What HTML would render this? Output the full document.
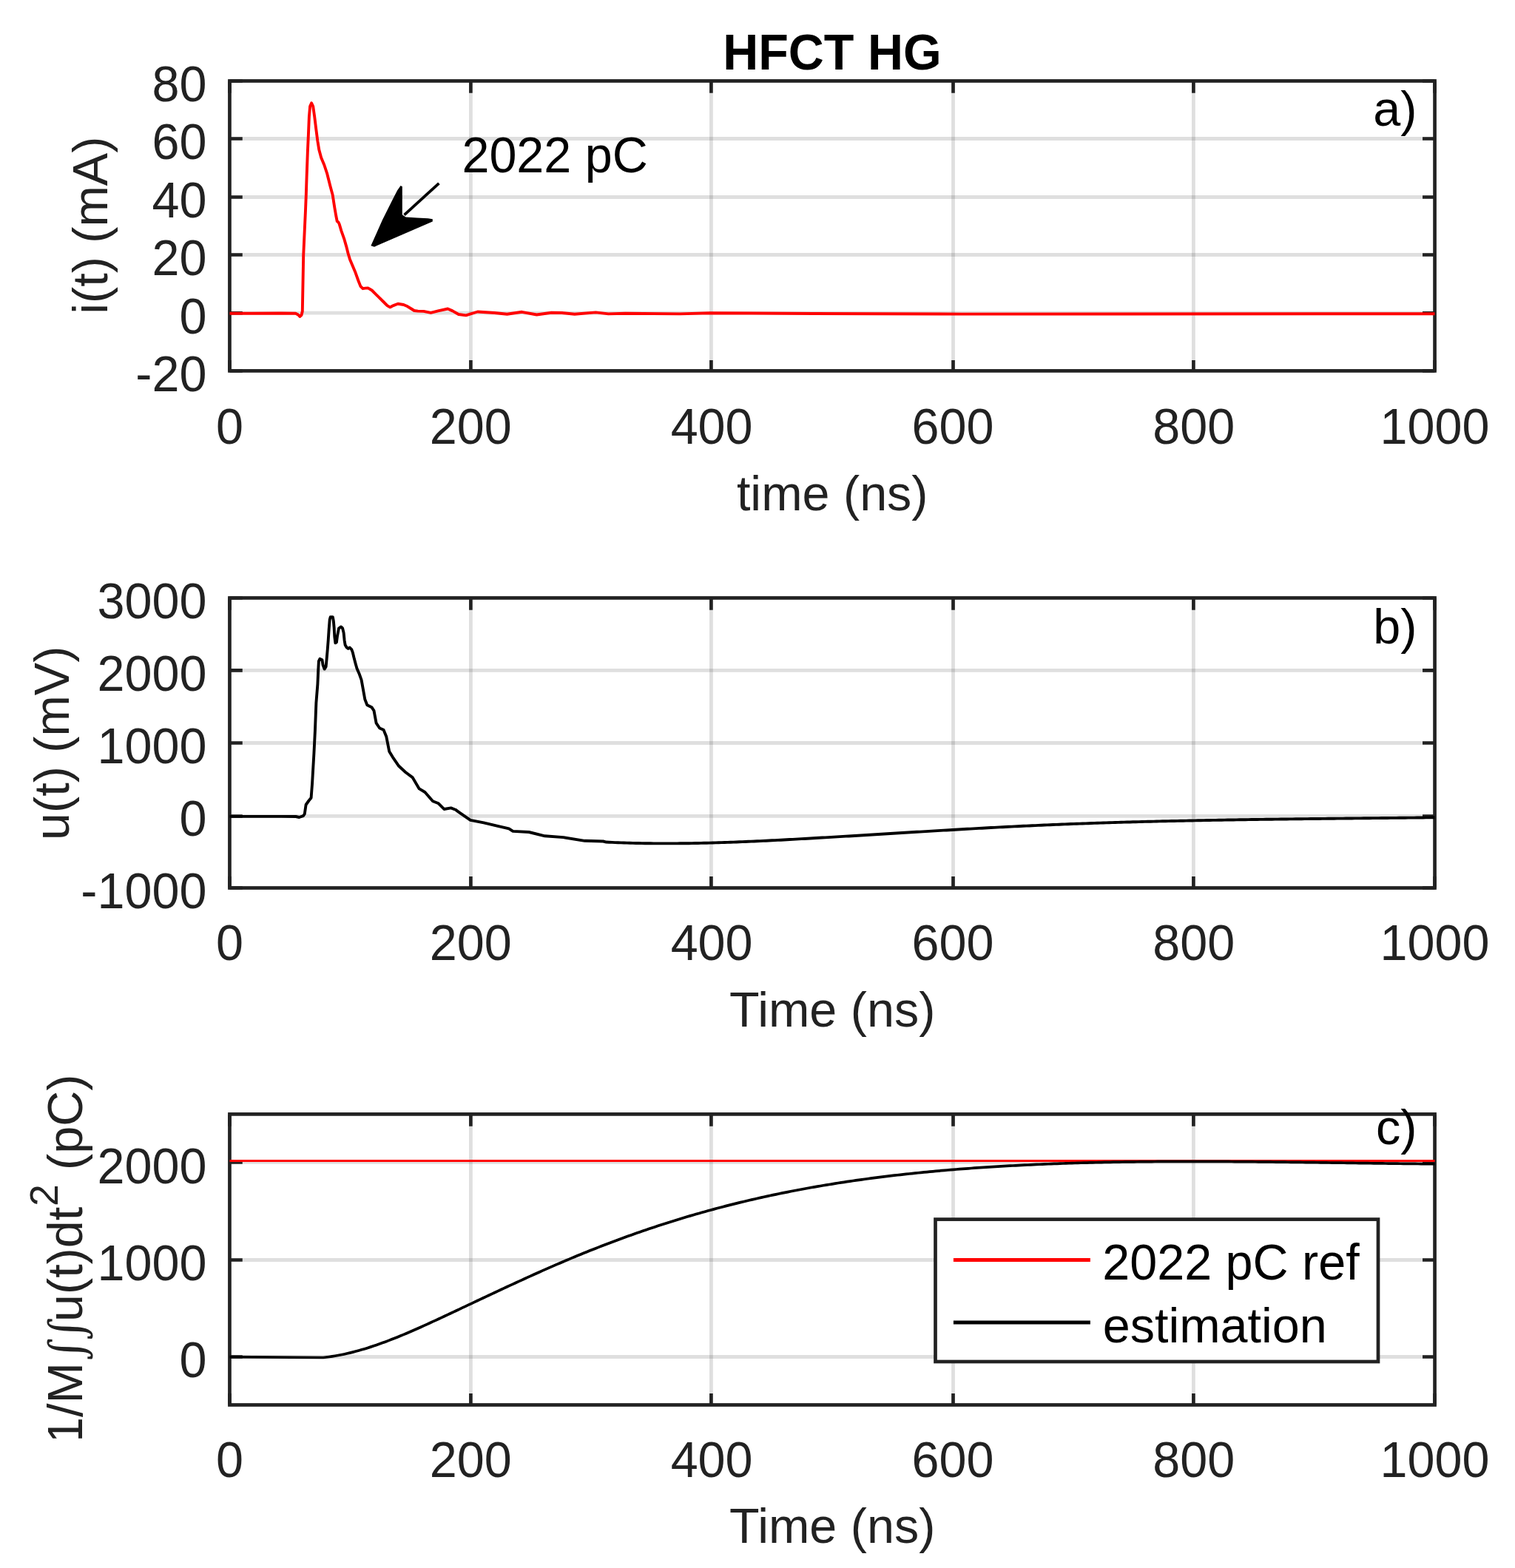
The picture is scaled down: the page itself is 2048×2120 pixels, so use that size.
<!DOCTYPE html>
<html><head><meta charset="utf-8"><title>HFCT HG</title>
<style>html,body{margin:0;padding:0;background:#fff;}svg{display:block;}</style>
</head><body>
<svg width="2048" height="2120" viewBox="0 0 2048 2120">
<rect width="2048" height="2120" fill="#fff"/>
<text transform="translate(1124.90 94.00) scale(1 1.043)" font-family="'Liberation Sans', sans-serif" font-size="66.5" fill="#000" text-anchor="middle" font-weight="bold">HFCT HG</text>
<path d="M636.40 109.45V501.40M961.40 109.45V501.40M1288.50 109.45V501.40M1613.40 109.45V501.40" stroke="#262626" stroke-opacity="0.15" stroke-width="4.8" fill="none"/>
<path d="M310.45 423.20H1939.55M310.45 344.50H1939.55M310.45 266.50H1939.55M310.45 187.50H1939.55" stroke="#262626" stroke-opacity="0.15" stroke-width="4.8" fill="none"/>
<path d="M310.45 501.40v-14.3M310.45 109.45v16.3M636.40 501.40v-14.3M636.40 109.45v16.3M961.40 501.40v-14.3M961.40 109.45v16.3M1288.50 501.40v-14.3M1288.50 109.45v16.3M1613.40 501.40v-14.3M1613.40 109.45v16.3M1939.55 501.40v-14.3M1939.55 109.45v16.3M310.45 501.40h17.3M1939.55 501.40h-16.5M310.45 423.20h17.3M1939.55 423.20h-16.5M310.45 344.50h17.3M1939.55 344.50h-16.5M310.45 266.50h17.3M1939.55 266.50h-16.5M310.45 187.50h17.3M1939.55 187.50h-16.5M310.45 109.45h17.3M1939.55 109.45h-16.5" stroke="#222222" stroke-width="4.65" fill="none"/>
<rect x="310.45" y="109.45" width="1629.10" height="391.95" fill="none" stroke="#222222" stroke-width="4.7"/>
<path d="M310.50 423.70 L340.00 423.80 L380.00 423.50 L399.60 423.80 L403.00 425.50 L405.30 428.00 L407.50 426.00 L408.80 421.00 L410.20 345.30 L412.96 285.00 L413.80 263.80 L414.60 239.30 L415.80 206.60 L416.90 182.10 L417.90 157.70 L419.10 143.80 L421.10 139.40 L423.20 143.80 L425.20 157.70 L427.20 174.00 L429.30 190.30 L431.30 202.60 L434.20 213.20 L438.30 223.00 L442.30 235.20 L446.40 251.50 L449.70 263.80 L452.20 280.00 L454.20 291.50 L455.70 299.10 L457.50 300.50 L458.70 303.00 L461.40 312.10 L465.20 322.80 L468.30 333.60 L470.60 342.70 L472.90 350.40 L476.70 359.60 L480.60 368.80 L484.40 379.50 L487.40 387.10 L490.50 390.20 L494.00 389.60 L497.40 389.40 L502.70 392.50 L507.30 397.10 L513.40 403.20 L518.80 408.50 L523.40 413.10 L527.20 415.40 L531.80 413.10 L537.90 410.80 L545.60 412.00 L550.90 414.30 L556.00 417.50 L560.00 420.00 L565.00 420.60 L572.70 420.90 L582.40 422.90 L592.20 420.40 L605.30 417.50 L611.80 420.40 L619.90 425.00 L629.90 426.40 L645.60 421.50 L668.40 423.00 L685.50 424.70 L705.50 421.80 L725.50 425.50 L745.40 422.70 L759.70 423.00 L776.80 424.70 L805.30 422.40 L822.40 424.40 L845.30 423.80 L919.40 424.40 L959.40 423.20 L1100.00 424.00 L1300.00 424.60 L1939.50 424.20" stroke="#ff0000" stroke-width="3.9" fill="none" stroke-linejoin="round" stroke-linecap="butt"/>
<text transform="translate(310.45 599.80) scale(1 1.04)" font-family="'Liberation Sans', sans-serif" font-size="66.5" fill="#222222" text-anchor="middle">0</text><text transform="translate(636.27 599.80) scale(1 1.04)" font-family="'Liberation Sans', sans-serif" font-size="66.5" fill="#222222" text-anchor="middle">200</text><text transform="translate(962.09 599.80) scale(1 1.04)" font-family="'Liberation Sans', sans-serif" font-size="66.5" fill="#222222" text-anchor="middle">400</text><text transform="translate(1287.91 599.80) scale(1 1.04)" font-family="'Liberation Sans', sans-serif" font-size="66.5" fill="#222222" text-anchor="middle">600</text><text transform="translate(1613.73 599.80) scale(1 1.04)" font-family="'Liberation Sans', sans-serif" font-size="66.5" fill="#222222" text-anchor="middle">800</text><text transform="translate(1939.55 599.80) scale(1 1.04)" font-family="'Liberation Sans', sans-serif" font-size="66.5" fill="#222222" text-anchor="middle">1000</text><text transform="translate(279.40 529.00) scale(1 1.04)" font-family="'Liberation Sans', sans-serif" font-size="66.5" fill="#222222" text-anchor="end">-20</text><text transform="translate(279.40 450.61) scale(1 1.04)" font-family="'Liberation Sans', sans-serif" font-size="66.5" fill="#222222" text-anchor="end">0</text><text transform="translate(279.40 372.22) scale(1 1.04)" font-family="'Liberation Sans', sans-serif" font-size="66.5" fill="#222222" text-anchor="end">20</text><text transform="translate(279.40 293.83) scale(1 1.04)" font-family="'Liberation Sans', sans-serif" font-size="66.5" fill="#222222" text-anchor="end">40</text><text transform="translate(279.40 215.44) scale(1 1.04)" font-family="'Liberation Sans', sans-serif" font-size="66.5" fill="#222222" text-anchor="end">60</text><text transform="translate(279.40 137.05) scale(1 1.04)" font-family="'Liberation Sans', sans-serif" font-size="66.5" fill="#222222" text-anchor="end">80</text><text transform="translate(1125.20 689.80) scale(1 1.015)" font-family="'Liberation Sans', sans-serif" font-size="66.5" fill="#222222" text-anchor="middle">time (ns)</text>
<text transform="translate(145.0 304.7) rotate(-90)" font-family="'Liberation Sans', sans-serif" font-size="66.5" fill="#222222" text-anchor="middle">i(t) (mA)</text>
<text transform="translate(1915.40 170.00) scale(1 1.0)" font-family="'Liberation Sans', sans-serif" font-size="66.5" fill="#000" text-anchor="end">a)</text>
<text transform="translate(624.40 233.00) scale(1 1.03)" font-family="'Liberation Sans', sans-serif" font-size="66.5" fill="#000">2022 pC</text>
<path d="M593.4 247.8L546.5 290.6" stroke="#000" stroke-width="3.8" fill="none"/>
<path d="M501.4 332.3L517.0 297.3L531.0 269.2L537.2 257.2L541.6 251.1L543.8 252.2L543.8 290.2L548.5 293.6L563.8 294.4L578.7 295.2L584.8 296.3L584.8 299.6L506 333.7Z" fill="#000"/>
<path d="M636.40 808.45V1200.50M961.40 808.45V1200.50M1288.50 808.45V1200.50M1613.40 808.45V1200.50" stroke="#262626" stroke-opacity="0.15" stroke-width="4.8" fill="none"/>
<path d="M310.45 1103.45H1939.55M310.45 1004.50H1939.55M310.45 906.40H1939.55" stroke="#262626" stroke-opacity="0.15" stroke-width="4.8" fill="none"/>
<path d="M310.45 1200.50v-15.4M310.45 808.45v16.3M636.40 1200.50v-15.4M636.40 808.45v16.3M961.40 1200.50v-15.4M961.40 808.45v16.3M1288.50 1200.50v-15.4M1288.50 808.45v16.3M1613.40 1200.50v-15.4M1613.40 808.45v16.3M1939.55 1200.50v-15.4M1939.55 808.45v16.3M310.45 1200.50h17.3M1939.55 1200.50h-16.5M310.45 1103.45h17.3M1939.55 1103.45h-16.5M310.45 1004.50h17.3M1939.55 1004.50h-16.5M310.45 906.40h17.3M1939.55 906.40h-16.5M310.45 808.45h17.3M1939.55 808.45h-16.5" stroke="#222222" stroke-width="4.65" fill="none"/>
<rect x="310.45" y="808.45" width="1629.10" height="392.05" fill="none" stroke="#222222" stroke-width="4.7"/>
<path d="M310.50 1103.90 L380.00 1103.90 L399.90 1104.00 L404.50 1105.00 L409.90 1103.20 L411.80 1100.50 L413.60 1088.00 L417.50 1082.50 L420.60 1078.70 L422.10 1058.80 L424.40 1019.00 L425.90 988.40 L427.40 950.10 L429.40 925.00 L430.20 906.60 L430.90 893.90 L432.40 890.80 L435.50 892.30 L436.50 899.00 L438.60 904.60 L440.60 901.50 L441.60 891.30 L442.70 878.60 L443.70 865.80 L444.70 850.50 L445.70 837.80 L446.70 834.20 L449.80 834.20 L450.80 839.30 L451.60 848.00 L452.30 860.70 L453.40 869.40 L454.90 868.40 L455.90 860.70 L458.00 849.50 L461.00 847.40 L463.10 849.50 L464.60 855.60 L465.60 865.80 L466.60 871.90 L468.70 875.50 L470.70 877.00 L472.80 875.50 L475.30 878.10 L476.80 882.10 L478.40 888.80 L480.40 896.40 L482.40 903.60 L485.50 910.70 L488.60 919.40 L493.30 945.50 L496.30 953.20 L502.40 956.20 L505.50 960.80 L508.60 977.70 L513.20 984.50 L518.50 986.80 L522.30 996.00 L526.20 1015.90 L530.80 1023.60 L539.20 1035.80 L548.40 1044.20 L557.60 1051.10 L566.70 1066.40 L574.40 1071.00 L585.10 1083.30 L592.80 1086.30 L600.40 1094.00 L609.60 1092.40 L615.70 1094.70 L620.00 1097.80 L635.90 1108.80 L653.90 1112.40 L671.80 1116.70 L688.00 1120.30 L693.40 1123.90 L715.00 1125.00 L736.50 1130.30 L761.60 1132.10 L790.40 1136.80 L815.50 1137.50 L819.50 1138.55 L823.50 1138.73 L827.50 1138.91 L831.50 1139.08 L835.50 1139.23 L839.50 1139.38 L843.50 1139.51 L847.50 1139.64 L851.50 1139.75 L855.50 1139.86 L859.50 1139.95 L863.50 1140.04 L867.50 1140.12 L871.50 1140.18 L875.50 1140.24 L879.50 1140.29 L883.50 1140.33 L887.50 1140.36 L891.50 1140.39 L895.50 1140.40 L899.50 1140.41 L903.50 1140.41 L907.50 1140.40 L911.50 1140.38 L915.50 1140.35 L919.50 1140.32 L923.50 1140.28 L927.50 1140.23 L931.50 1140.18 L935.50 1140.12 L939.50 1140.05 L943.50 1139.97 L947.50 1139.89 L951.50 1139.80 L955.50 1139.71 L959.50 1139.61 L963.50 1139.50 L967.50 1139.39 L971.50 1139.27 L975.50 1139.15 L979.50 1139.02 L983.50 1138.88 L987.50 1138.74 L991.50 1138.60 L995.50 1138.45 L999.50 1138.29 L1003.50 1138.13 L1007.50 1137.97 L1011.50 1137.80 L1015.50 1137.62 L1019.50 1137.45 L1023.50 1137.27 L1027.50 1137.08 L1031.50 1136.89 L1035.50 1136.70 L1039.50 1136.51 L1043.50 1136.31 L1047.50 1136.11 L1051.50 1135.90 L1055.50 1135.69 L1059.50 1135.48 L1063.50 1135.27 L1067.50 1135.06 L1071.50 1134.84 L1075.50 1134.62 L1079.50 1134.40 L1083.50 1134.17 L1087.50 1133.95 L1091.50 1133.72 L1095.50 1133.49 L1099.50 1133.26 L1103.50 1133.03 L1107.50 1132.80 L1111.50 1132.57 L1115.50 1132.33 L1119.50 1132.10 L1123.50 1131.86 L1127.50 1131.62 L1131.50 1131.39 L1135.50 1131.15 L1139.50 1130.91 L1143.50 1130.67 L1147.50 1130.43 L1151.50 1130.18 L1155.50 1129.94 L1159.50 1129.70 L1163.50 1129.46 L1167.50 1129.21 L1171.50 1128.97 L1175.50 1128.73 L1179.50 1128.48 L1183.50 1128.24 L1187.50 1127.99 L1191.50 1127.75 L1195.50 1127.50 L1199.50 1127.26 L1203.50 1127.01 L1207.50 1126.77 L1211.50 1126.52 L1215.50 1126.28 L1219.50 1126.03 L1223.50 1125.79 L1227.50 1125.55 L1231.50 1125.30 L1235.50 1125.06 L1239.50 1124.82 L1243.50 1124.58 L1247.50 1124.33 L1251.50 1124.09 L1255.50 1123.85 L1259.50 1123.61 L1263.50 1123.38 L1267.50 1123.14 L1271.50 1122.90 L1275.50 1122.67 L1279.50 1122.43 L1283.50 1122.20 L1287.50 1121.96 L1291.50 1121.73 L1295.50 1121.50 L1299.50 1121.27 L1303.50 1121.04 L1307.50 1120.82 L1311.50 1120.59 L1315.50 1120.37 L1319.50 1120.15 L1323.50 1119.92 L1327.50 1119.71 L1331.50 1119.49 L1335.50 1119.27 L1339.50 1119.06 L1343.50 1118.84 L1347.50 1118.63 L1351.50 1118.42 L1355.50 1118.22 L1359.50 1118.01 L1363.50 1117.81 L1367.50 1117.61 L1371.50 1117.41 L1375.50 1117.21 L1379.50 1117.02 L1383.50 1116.82 L1387.50 1116.63 L1391.50 1116.45 L1395.50 1116.26 L1399.50 1116.08 L1403.50 1115.90 L1407.50 1115.72 L1411.50 1115.54 L1415.50 1115.37 L1419.50 1115.20 L1423.50 1115.03 L1427.50 1114.87 L1431.50 1114.70 L1435.50 1114.54 L1439.50 1114.38 L1443.50 1114.23 L1447.50 1114.07 L1451.50 1113.92 L1455.50 1113.77 L1459.50 1113.62 L1463.50 1113.48 L1467.50 1113.33 L1471.50 1113.19 L1475.50 1113.05 L1479.50 1112.92 L1483.50 1112.78 L1487.50 1112.65 L1491.50 1112.52 L1495.50 1112.39 L1499.50 1112.26 L1503.50 1112.14 L1507.50 1112.02 L1511.50 1111.90 L1515.50 1111.78 L1519.50 1111.66 L1523.50 1111.55 L1527.50 1111.43 L1531.50 1111.32 L1535.50 1111.21 L1539.50 1111.10 L1543.50 1111.00 L1547.50 1110.89 L1551.50 1110.79 L1555.50 1110.69 L1559.50 1110.59 L1563.50 1110.49 L1567.50 1110.39 L1571.50 1110.30 L1575.50 1110.21 L1579.50 1110.11 L1583.50 1110.02 L1587.50 1109.93 L1591.50 1109.85 L1595.50 1109.76 L1599.50 1109.68 L1603.50 1109.59 L1607.50 1109.51 L1611.50 1109.43 L1615.50 1109.35 L1619.50 1109.27 L1623.50 1109.20 L1627.50 1109.12 L1631.50 1109.05 L1635.50 1108.98 L1639.50 1108.90 L1643.50 1108.83 L1647.50 1108.77 L1651.50 1108.70 L1655.50 1108.63 L1659.50 1108.56 L1663.50 1108.50 L1667.50 1108.43 L1671.50 1108.37 L1675.50 1108.31 L1679.50 1108.25 L1683.50 1108.19 L1687.50 1108.13 L1691.50 1108.07 L1695.50 1108.01 L1699.50 1107.96 L1703.50 1107.90 L1707.50 1107.85 L1711.50 1107.79 L1715.50 1107.74 L1719.50 1107.69 L1723.50 1107.64 L1727.50 1107.58 L1731.50 1107.53 L1735.50 1107.48 L1739.50 1107.43 L1743.50 1107.39 L1747.50 1107.34 L1751.50 1107.29 L1755.50 1107.24 L1759.50 1107.20 L1763.50 1107.15 L1767.50 1107.10 L1771.50 1107.06 L1775.50 1107.01 L1779.50 1106.97 L1783.50 1106.93 L1787.50 1106.88 L1791.50 1106.84 L1795.50 1106.80 L1799.50 1106.75 L1803.50 1106.71 L1807.50 1106.67 L1811.50 1106.63 L1815.50 1106.58 L1819.50 1106.54 L1823.50 1106.50 L1827.50 1106.46 L1831.50 1106.42 L1835.50 1106.38 L1839.50 1106.34 L1843.50 1106.29 L1847.50 1106.25 L1851.50 1106.21 L1855.50 1106.17 L1859.50 1106.13 L1863.50 1106.09 L1867.50 1106.05 L1871.50 1106.00 L1875.50 1105.96 L1879.50 1105.92 L1883.50 1105.88 L1887.50 1105.84 L1891.50 1105.79 L1895.50 1105.75 L1899.50 1105.71 L1903.50 1105.66 L1907.50 1105.62 L1911.50 1105.58 L1915.50 1105.53 L1919.50 1105.49 L1923.50 1105.44 L1927.50 1105.39 L1931.50 1105.35 L1935.50 1105.30 L1939.50 1105.25" stroke="#000" stroke-width="3.9" fill="none" stroke-linejoin="round" stroke-linecap="butt"/>
<text transform="translate(310.45 1297.80) scale(1 1.04)" font-family="'Liberation Sans', sans-serif" font-size="66.5" fill="#222222" text-anchor="middle">0</text><text transform="translate(636.27 1297.80) scale(1 1.04)" font-family="'Liberation Sans', sans-serif" font-size="66.5" fill="#222222" text-anchor="middle">200</text><text transform="translate(962.09 1297.80) scale(1 1.04)" font-family="'Liberation Sans', sans-serif" font-size="66.5" fill="#222222" text-anchor="middle">400</text><text transform="translate(1287.91 1297.80) scale(1 1.04)" font-family="'Liberation Sans', sans-serif" font-size="66.5" fill="#222222" text-anchor="middle">600</text><text transform="translate(1613.73 1297.80) scale(1 1.04)" font-family="'Liberation Sans', sans-serif" font-size="66.5" fill="#222222" text-anchor="middle">800</text><text transform="translate(1939.55 1297.80) scale(1 1.04)" font-family="'Liberation Sans', sans-serif" font-size="66.5" fill="#222222" text-anchor="middle">1000</text><text transform="translate(279.40 1228.10) scale(1 1.04)" font-family="'Liberation Sans', sans-serif" font-size="66.5" fill="#222222" text-anchor="end">-1000</text><text transform="translate(279.40 1130.09) scale(1 1.04)" font-family="'Liberation Sans', sans-serif" font-size="66.5" fill="#222222" text-anchor="end">0</text><text transform="translate(279.40 1032.08) scale(1 1.04)" font-family="'Liberation Sans', sans-serif" font-size="66.5" fill="#222222" text-anchor="end">1000</text><text transform="translate(279.40 934.06) scale(1 1.04)" font-family="'Liberation Sans', sans-serif" font-size="66.5" fill="#222222" text-anchor="end">2000</text><text transform="translate(279.40 836.05) scale(1 1.04)" font-family="'Liberation Sans', sans-serif" font-size="66.5" fill="#222222" text-anchor="end">3000</text><text transform="translate(1125.20 1387.80) scale(1 1.015)" font-family="'Liberation Sans', sans-serif" font-size="66.5" fill="#222222" text-anchor="middle">Time (ns)</text>
<text transform="translate(92.8 1004.8) rotate(-90)" font-family="'Liberation Sans', sans-serif" font-size="66.5" fill="#222222" text-anchor="middle">u(t) (mV)</text>
<text transform="translate(1915.40 869.90) scale(1 1.0)" font-family="'Liberation Sans', sans-serif" font-size="66.5" fill="#000" text-anchor="end">b)</text>
<path d="M636.40 1506.40V1899.50M961.40 1506.40V1899.50M1288.50 1506.40V1899.50M1613.40 1506.40V1899.50" stroke="#262626" stroke-opacity="0.15" stroke-width="4.8" fill="none"/>
<path d="M310.45 1834.50H1939.55M310.45 1703.50H1939.55M310.45 1571.40H1939.55" stroke="#262626" stroke-opacity="0.15" stroke-width="4.8" fill="none"/>
<path d="M310.45 1899.50v-15.4M310.45 1506.40v16.3M636.40 1899.50v-15.4M636.40 1506.40v16.3M961.40 1899.50v-15.4M961.40 1506.40v16.3M1288.50 1899.50v-15.4M1288.50 1506.40v16.3M1613.40 1899.50v-15.4M1613.40 1506.40v16.3M1939.55 1899.50v-15.4M1939.55 1506.40v16.3M310.45 1834.50h17.3M1939.55 1834.50h-16.5M310.45 1703.50h17.3M1939.55 1703.50h-16.5M310.45 1571.40h17.3M1939.55 1571.40h-16.5" stroke="#222222" stroke-width="4.65" fill="none"/>
<rect x="310.45" y="1506.40" width="1629.10" height="393.10" fill="none" stroke="#222222" stroke-width="4.7"/>
<path d="M310.45 1569.50 L1939.55 1569.50" stroke="#ff0000" stroke-width="3.1" fill="none" stroke-linejoin="round" stroke-linecap="butt"/>
<path d="M310.50 1834.60 L437.00 1835.50 L441.00 1835.03 L445.00 1834.51 L449.00 1833.92 L453.00 1833.26 L457.00 1832.55 L461.00 1831.78 L465.00 1830.95 L469.00 1830.06 L473.00 1829.12 L477.00 1828.12 L481.00 1827.08 L485.00 1825.98 L489.00 1824.84 L493.00 1823.65 L497.00 1822.41 L501.00 1821.13 L505.00 1819.81 L509.00 1818.45 L513.00 1817.05 L517.00 1815.61 L521.00 1814.14 L525.00 1812.63 L529.00 1811.09 L533.00 1809.51 L537.00 1807.91 L541.00 1806.28 L545.00 1804.62 L549.00 1802.94 L553.00 1801.23 L557.00 1799.50 L561.00 1797.75 L565.00 1795.98 L569.00 1794.20 L573.00 1792.40 L577.00 1790.58 L581.00 1788.75 L585.00 1786.91 L589.00 1785.06 L593.00 1783.21 L597.00 1781.34 L601.00 1779.47 L605.00 1777.60 L609.00 1775.72 L613.00 1773.85 L617.00 1771.97 L621.00 1770.08 L625.00 1768.20 L629.00 1766.32 L633.00 1764.43 L637.00 1762.55 L641.00 1760.66 L645.00 1758.78 L649.00 1756.89 L653.00 1755.01 L657.00 1753.13 L661.00 1751.25 L665.00 1749.38 L669.00 1747.50 L673.00 1745.63 L677.00 1743.77 L681.00 1741.90 L685.00 1740.04 L689.00 1738.19 L693.00 1736.34 L697.00 1734.49 L701.00 1732.65 L705.00 1730.82 L709.00 1728.99 L713.00 1727.17 L717.00 1725.36 L721.00 1723.55 L725.00 1721.75 L729.00 1719.96 L733.00 1718.18 L737.00 1716.41 L741.00 1714.64 L745.00 1712.89 L749.00 1711.14 L753.00 1709.41 L757.00 1707.68 L761.00 1705.97 L765.00 1704.27 L769.00 1702.58 L773.00 1700.90 L777.00 1699.24 L781.00 1697.58 L785.00 1695.94 L789.00 1694.31 L793.00 1692.70 L797.00 1691.09 L801.00 1689.50 L805.00 1687.92 L809.00 1686.35 L813.00 1684.80 L817.00 1683.26 L821.00 1681.73 L825.00 1680.21 L829.00 1678.70 L833.00 1677.21 L837.00 1675.73 L841.00 1674.26 L845.00 1672.80 L849.00 1671.36 L853.00 1669.93 L857.00 1668.51 L861.00 1667.10 L865.00 1665.71 L869.00 1664.32 L873.00 1662.96 L877.00 1661.60 L881.00 1660.25 L885.00 1658.92 L889.00 1657.60 L893.00 1656.29 L897.00 1655.00 L901.00 1653.71 L905.00 1652.44 L909.00 1651.18 L913.00 1649.94 L917.00 1648.70 L921.00 1647.48 L925.00 1646.27 L929.00 1645.08 L933.00 1643.89 L937.00 1642.72 L941.00 1641.56 L945.00 1640.42 L949.00 1639.28 L953.00 1638.16 L957.00 1637.05 L961.00 1635.95 L965.00 1634.87 L969.00 1633.80 L973.00 1632.74 L977.00 1631.69 L981.00 1630.65 L985.00 1629.63 L989.00 1628.62 L993.00 1627.62 L997.00 1626.63 L1001.00 1625.65 L1005.00 1624.69 L1009.00 1623.74 L1013.00 1622.80 L1017.00 1621.87 L1021.00 1620.95 L1025.00 1620.04 L1029.00 1619.14 L1033.00 1618.26 L1037.00 1617.38 L1041.00 1616.52 L1045.00 1615.67 L1049.00 1614.83 L1053.00 1614.00 L1057.00 1613.18 L1061.00 1612.37 L1065.00 1611.57 L1069.00 1610.78 L1073.00 1610.01 L1077.00 1609.24 L1081.00 1608.48 L1085.00 1607.73 L1089.00 1607.00 L1093.00 1606.27 L1097.00 1605.55 L1101.00 1604.85 L1105.00 1604.15 L1109.00 1603.46 L1113.00 1602.78 L1117.00 1602.12 L1121.00 1601.46 L1125.00 1600.81 L1129.00 1600.17 L1133.00 1599.54 L1137.00 1598.92 L1141.00 1598.30 L1145.00 1597.70 L1149.00 1597.11 L1153.00 1596.52 L1157.00 1595.94 L1161.00 1595.37 L1165.00 1594.81 L1169.00 1594.26 L1173.00 1593.72 L1177.00 1593.19 L1181.00 1592.66 L1185.00 1592.14 L1189.00 1591.64 L1193.00 1591.13 L1197.00 1590.64 L1201.00 1590.16 L1205.00 1589.68 L1209.00 1589.21 L1213.00 1588.75 L1217.00 1588.30 L1221.00 1587.85 L1225.00 1587.41 L1229.00 1586.98 L1233.00 1586.56 L1237.00 1586.14 L1241.00 1585.73 L1245.00 1585.33 L1249.00 1584.93 L1253.00 1584.54 L1257.00 1584.16 L1261.00 1583.79 L1265.00 1583.42 L1269.00 1583.06 L1273.00 1582.71 L1277.00 1582.36 L1281.00 1582.02 L1285.00 1581.68 L1289.00 1581.35 L1293.00 1581.03 L1297.00 1580.71 L1301.00 1580.40 L1305.00 1580.10 L1309.00 1579.80 L1313.00 1579.51 L1317.00 1579.22 L1321.00 1578.94 L1325.00 1578.67 L1329.00 1578.40 L1333.00 1578.13 L1337.00 1577.87 L1341.00 1577.62 L1345.00 1577.37 L1349.00 1577.13 L1353.00 1576.89 L1357.00 1576.66 L1361.00 1576.43 L1365.00 1576.21 L1369.00 1575.99 L1373.00 1575.78 L1377.00 1575.57 L1381.00 1575.37 L1385.00 1575.17 L1389.00 1574.98 L1393.00 1574.79 L1397.00 1574.60 L1401.00 1574.42 L1405.00 1574.25 L1409.00 1574.08 L1413.00 1573.91 L1417.00 1573.75 L1421.00 1573.59 L1425.00 1573.44 L1429.00 1573.29 L1433.00 1573.15 L1437.00 1573.00 L1441.00 1572.87 L1445.00 1572.74 L1449.00 1572.61 L1453.00 1572.48 L1457.00 1572.36 L1461.00 1572.25 L1465.00 1572.14 L1469.00 1572.03 L1473.00 1571.92 L1477.00 1571.82 L1481.00 1571.73 L1485.00 1571.63 L1489.00 1571.54 L1493.00 1571.46 L1497.00 1571.37 L1501.00 1571.29 L1505.00 1571.22 L1509.00 1571.15 L1513.00 1571.08 L1517.00 1571.01 L1521.00 1570.95 L1525.00 1570.89 L1529.00 1570.83 L1533.00 1570.78 L1537.00 1570.73 L1541.00 1570.68 L1545.00 1570.64 L1549.00 1570.60 L1553.00 1570.56 L1557.00 1570.53 L1561.00 1570.49 L1565.00 1570.47 L1569.00 1570.44 L1573.00 1570.41 L1577.00 1570.39 L1581.00 1570.37 L1585.00 1570.36 L1589.00 1570.34 L1593.00 1570.33 L1597.00 1570.32 L1601.00 1570.32 L1605.00 1570.31 L1609.00 1570.31 L1613.00 1570.31 L1617.00 1570.31 L1621.00 1570.32 L1625.00 1570.33 L1629.00 1570.33 L1633.00 1570.35 L1637.00 1570.36 L1641.00 1570.37 L1645.00 1570.39 L1649.00 1570.41 L1653.00 1570.43 L1657.00 1570.45 L1661.00 1570.47 L1665.00 1570.50 L1669.00 1570.53 L1673.00 1570.56 L1677.00 1570.59 L1681.00 1570.62 L1685.00 1570.65 L1689.00 1570.69 L1693.00 1570.72 L1697.00 1570.76 L1701.00 1570.80 L1705.00 1570.84 L1709.00 1570.88 L1713.00 1570.92 L1717.00 1570.96 L1721.00 1571.01 L1725.00 1571.05 L1729.00 1571.10 L1733.00 1571.14 L1737.00 1571.19 L1741.00 1571.24 L1745.00 1571.29 L1749.00 1571.34 L1753.00 1571.39 L1757.00 1571.44 L1761.00 1571.49 L1765.00 1571.55 L1769.00 1571.60 L1773.00 1571.65 L1777.00 1571.71 L1781.00 1571.76 L1785.00 1571.82 L1789.00 1571.87 L1793.00 1571.93 L1797.00 1571.98 L1801.00 1572.04 L1805.00 1572.09 L1809.00 1572.15 L1813.00 1572.20 L1817.00 1572.26 L1821.00 1572.31 L1825.00 1572.37 L1829.00 1572.43 L1833.00 1572.48 L1837.00 1572.54 L1841.00 1572.59 L1845.00 1572.64 L1849.00 1572.70 L1853.00 1572.75 L1857.00 1572.80 L1861.00 1572.86 L1865.00 1572.91 L1869.00 1572.96 L1873.00 1573.01 L1877.00 1573.06 L1881.00 1573.11 L1885.00 1573.16 L1889.00 1573.21 L1893.00 1573.25 L1897.00 1573.30 L1901.00 1573.34 L1905.00 1573.39 L1909.00 1573.43 L1913.00 1573.47 L1917.00 1573.51 L1921.00 1573.55 L1925.00 1573.59 L1929.00 1573.63 L1933.00 1573.66 L1937.00 1573.70 L1939.50 1573.72" stroke="#000" stroke-width="3.7" fill="none" stroke-linejoin="round" stroke-linecap="butt"/>
<text transform="translate(310.45 1996.70) scale(1 1.04)" font-family="'Liberation Sans', sans-serif" font-size="66.5" fill="#222222" text-anchor="middle">0</text><text transform="translate(636.27 1996.70) scale(1 1.04)" font-family="'Liberation Sans', sans-serif" font-size="66.5" fill="#222222" text-anchor="middle">200</text><text transform="translate(962.09 1996.70) scale(1 1.04)" font-family="'Liberation Sans', sans-serif" font-size="66.5" fill="#222222" text-anchor="middle">400</text><text transform="translate(1287.91 1996.70) scale(1 1.04)" font-family="'Liberation Sans', sans-serif" font-size="66.5" fill="#222222" text-anchor="middle">600</text><text transform="translate(1613.73 1996.70) scale(1 1.04)" font-family="'Liberation Sans', sans-serif" font-size="66.5" fill="#222222" text-anchor="middle">800</text><text transform="translate(1939.55 1996.70) scale(1 1.04)" font-family="'Liberation Sans', sans-serif" font-size="66.5" fill="#222222" text-anchor="middle">1000</text><text transform="translate(279.40 1861.58) scale(1 1.04)" font-family="'Liberation Sans', sans-serif" font-size="66.5" fill="#222222" text-anchor="end">0</text><text transform="translate(279.40 1730.55) scale(1 1.04)" font-family="'Liberation Sans', sans-serif" font-size="66.5" fill="#222222" text-anchor="end">1000</text><text transform="translate(279.40 1599.52) scale(1 1.04)" font-family="'Liberation Sans', sans-serif" font-size="66.5" fill="#222222" text-anchor="end">2000</text><text transform="translate(1125.20 2085.80) scale(1 1.015)" font-family="'Liberation Sans', sans-serif" font-size="66.5" fill="#222222" text-anchor="middle">Time (ns)</text>
<text transform="translate(1915.40 1546.80) scale(1 1.0)" font-family="'Liberation Sans', sans-serif" font-size="66.5" fill="#000" text-anchor="end">c)</text>
<clipPath id="clc"><rect x="0" y="1300" width="300" height="644.7"/></clipPath>
<g clip-path="url(#clc)">
<g transform="translate(111 0) rotate(-90)" font-family="'Liberation Sans', sans-serif" font-size="66.5" fill="#222222">
<text x="-1952.9">1/M</text>
<text transform="translate(-1841.6 -1.4) skewX(-2)" font-family="'DejaVu Math TeX Gyre', 'DejaVu Serif', serif" font-size="56.4">&#8747;</text>
<text transform="translate(-1813.9 -1.4) skewX(-2)" font-family="'DejaVu Math TeX Gyre', 'DejaVu Serif', serif" font-size="56.4">&#8747;</text>
<text x="-1787.0">u(t)dt</text>
<text x="-1631.0" y="-33.3" font-size="53.5">2</text>
<text x="-1582.0">(pC)</text>
</g></g>
<rect x="1264.5" y="1648.6" width="598.5" height="192.4" fill="#fff" stroke="#222222" stroke-width="4.7"/>
<path d="M1288.9 1703.4H1473.9" stroke="#ff0000" stroke-width="5"/>
<path d="M1288.9 1787.9H1473.9" stroke="#000" stroke-width="5"/>
<text transform="translate(1490.20 1730.40) scale(1 1.03)" font-family="'Liberation Sans', sans-serif" font-size="66.5" fill="#000">2022 pC ref</text>
<text transform="translate(1490.70 1815.30) scale(1 1.0)" font-family="'Liberation Sans', sans-serif" font-size="66.5" fill="#000">estimation</text>
</svg>
</body></html>
